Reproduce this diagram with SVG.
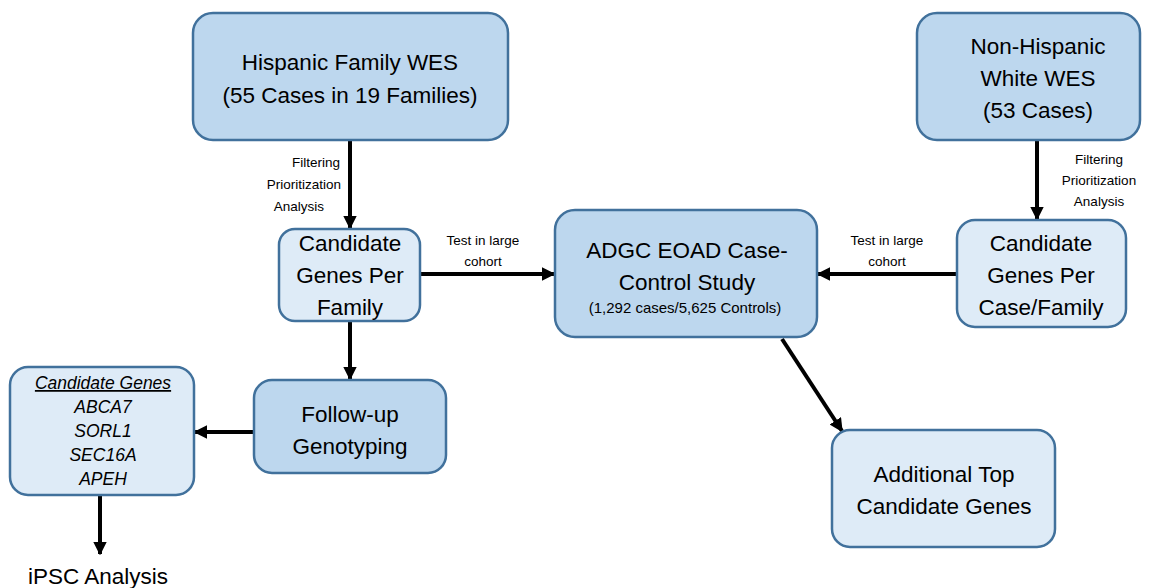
<svg xmlns="http://www.w3.org/2000/svg" width="1155" height="588" viewBox="0 0 1155 588">
<defs>
<marker id="ah" viewBox="0 0 10 10" refX="9" refY="5" markerWidth="3.4" markerHeight="3.4" orient="auto" markerUnits="strokeWidth">
<path d="M0,0 L10,5 L0,10 Z" fill="#000"/>
</marker>
<style>
.dark{fill:#bdd7ee;stroke:#41719c;stroke-width:2.5}
.light{fill:#deebf7;stroke:#41719c;stroke-width:2.5}
text{font-family:"Liberation Sans",Arial,sans-serif;fill:#000;text-anchor:middle}
.big{font-size:22.5px}
.sm{font-size:13.5px}
.it{font-size:17.5px;font-style:italic}
.ln{stroke:#000;stroke-width:4;fill:none;marker-end:url(#ah)}
</style>
</defs>
<rect width="1155" height="588" fill="#fff"/>
<g id="connectors">
<line class="ln" x1="350" y1="141" x2="350" y2="228"/>
<line class="ln" x1="1037" y1="141" x2="1037" y2="219"/>
<line class="ln" x1="421" y1="274" x2="554" y2="274"/>
<line class="ln" x1="956" y1="274" x2="818" y2="274"/>
<line class="ln" x1="350" y1="322" x2="350" y2="379"/>
<line class="ln" x1="253" y1="432" x2="195" y2="432"/>
<line class="ln" x1="782" y1="339" x2="842" y2="431"/>
<line class="ln" x1="100" y1="496" x2="100" y2="554"/>
<text class="sm" x="340" y="167" style="text-anchor:end">Filtering</text>
<text class="sm" x="341" y="189" style="text-anchor:end">Prioritization</text>
<text class="sm" x="324" y="211" style="text-anchor:end">Analysis</text>
<text class="sm" x="1099" y="164">Filtering</text>
<text class="sm" x="1099" y="185">Prioritization</text>
<text class="sm" x="1099" y="206">Analysis</text>
<text class="sm" x="483" y="245">Test in large</text>
<text class="sm" x="483" y="266">cohort</text>
<text class="sm" x="887" y="245">Test in large</text>
<text class="sm" x="887" y="266">cohort</text>
</g>
<g id="hispanic">
<rect class="dark" x="193" y="13" width="315" height="127" rx="20"/>
<text class="big" x="350" y="70">Hispanic Family WES</text>
<text class="big" x="350" y="103">(55 Cases in 19 Families)</text>
</g>
<g id="nonhispanic">
<rect class="dark" x="917" y="13" width="223" height="127" rx="20"/>
<text class="big" x="1038" y="54">Non-Hispanic</text>
<text class="big" x="1038" y="86">White WES</text>
<text class="big" x="1038" y="118">(53 Cases)</text>
</g>
<g id="cand-family">
<rect class="light" x="279" y="229" width="141" height="92" rx="16"/>
<text class="big" x="350" y="251">Candidate</text>
<text class="big" x="350" y="283">Genes Per</text>
<text class="big" x="350" y="315">Family</text>
</g>
<g id="adgc">
<rect class="dark" x="555" y="210" width="262" height="127" rx="20"/>
<text class="big" x="687" y="258">ADGC EOAD Case-</text>
<text class="big" x="687" y="290">Control Study</text>
<text x="685" y="313" style="font-size:15px">(1,292 cases/5,625 Controls)</text>
</g>
<g id="cand-case">
<rect class="light" x="957" y="220" width="169" height="107" rx="18"/>
<text class="big" x="1041" y="251">Candidate</text>
<text class="big" x="1041" y="283">Genes Per</text>
<text class="big" x="1041" y="315">Case/Family</text>
</g>
<g id="followup">
<rect class="dark" x="254" y="380" width="192" height="93" rx="18"/>
<text class="big" x="350" y="422">Follow-up</text>
<text class="big" x="350" y="454">Genotyping</text>
</g>
<g id="cand-list">
<rect class="light" x="10" y="367" width="184" height="128" rx="18"/>
<text class="it" x="103" y="389" text-decoration="underline">Candidate Genes</text>
<text class="it" x="103" y="413">ABCA7</text>
<text class="it" x="103" y="437">SORL1</text>
<text class="it" x="103" y="461">SEC16A</text>
<text class="it" x="103" y="485">APEH</text>
</g>
<g id="ipsc">
<text class="big" x="98" y="584">iPSC Analysis</text>
</g>
<g id="additional">
<rect class="light" x="832" y="430" width="223" height="117" rx="18"/>
<text class="big" x="944" y="482">Additional Top</text>
<text class="big" x="944" y="514">Candidate Genes</text>
</g>
</svg>
